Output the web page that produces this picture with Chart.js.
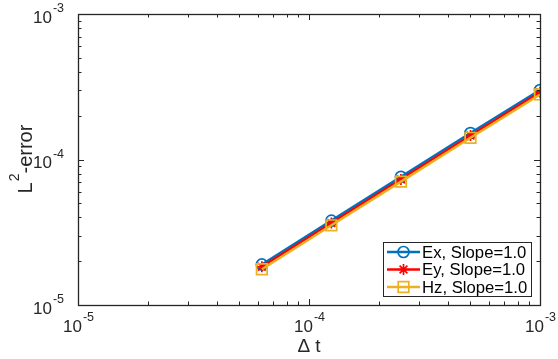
<!DOCTYPE html>
<html>
<head>
<meta charset="utf-8">
<script src="https://cdn.jsdelivr.net/npm/chart.js@4.4.1/dist/chart.umd.min.js"></script>
<style>
  html, body { margin: 0; padding: 0; background: #fff; }
  #wrap { width: 558px; height: 359px; }
</style>
</head>
<body>
<div id="wrap"><canvas id="errPlot" width="558" height="359"></canvas></div>
<script>
// time steps and L2 errors for each field component
const dt = [6.25e-5, 1.25e-4, 2.5e-4, 5e-4, 1e-3];
const errEx = [1.9e-5, 3.8e-5, 7.6e-5, 1.52e-4, 3.0e-4];
const errEy = [1.83e-5, 3.66e-5, 7.3e-5, 1.46e-4, 2.9e-4];
const errHz = [1.76e-5, 3.53e-5, 7.05e-5, 1.41e-4, 2.8e-4];
const seriesNames = ['Ex, Slope=1.0', 'Ey, Slope=1.0', 'Hz, Slope=1.0'];
const decadeExps = [-5, -4, -3];

const axisColor = '#262626';
const fontName = '"Liberation Sans", Arial, sans-serif';

function pts(ys) {
    return dt.map((x, i) => ({x: x, y: ys[i]}));
}

// draws "10" with a raised exponent, anchored by the center of the whole label
function powerLabel(ctx, exp, cx, cy, align) {
    const base = '10', sup = String(exp);
    ctx.font = '17px ' + fontName;
    const wb = ctx.measureText(base).width;
    ctx.font = '12.5px ' + fontName;
    const ws = ctx.measureText(sup).width;
    let x0 = align === 'right' ? cx - wb - ws : cx - (wb + ws) / 2;
    ctx.textBaseline = 'middle';
    ctx.textAlign = 'left';
    ctx.font = '17px ' + fontName;
    ctx.fillText(base, x0, cy);
    ctx.font = '12.5px ' + fontName;
    ctx.fillText(sup, x0 + wb + 1, cy - 9);
}

const matlabAxes = {
    id: 'matlabAxes',
    afterDatasetsDraw(chart) {
        const ctx = chart.ctx;
        const a = chart.chartArea;
        const xs = chart.scales.x, ys = chart.scales.y;
        ctx.save();
        ctx.strokeStyle = axisColor;
        ctx.fillStyle = axisColor;
        ctx.lineWidth = 1;

        // ticks on all four sides, 2..9 minors per decade
        ctx.beginPath();
        decadeExps.forEach((e, k) => {
            for (let m = 1; m <= 9; m++) {
                if (m > 1 && k === decadeExps.length - 1) break;
                const v = m * Math.pow(10, e);
                const len = m === 1 ? 6 : 3.5;
                const px = Math.round(xs.getPixelForValue(v)) + 0.5;
                const py = Math.round(ys.getPixelForValue(v)) + 0.5;
                ctx.moveTo(px, a.bottom); ctx.lineTo(px, a.bottom - len);
                ctx.moveTo(px, a.top); ctx.lineTo(px, a.top + len);
                ctx.moveTo(a.left, py); ctx.lineTo(a.left + len, py);
                ctx.moveTo(a.right, py); ctx.lineTo(a.right - len, py);
            }
        });
        ctx.stroke();

        // box
        ctx.lineWidth = 1.3;
        ctx.strokeRect(Math.round(a.left) + 0.5, Math.round(a.top) + 0.5,
            Math.round(a.right - a.left), Math.round(a.bottom - a.top));

        // tick labels
        ctx.fillStyle = '#262626';
        decadeExps.forEach(e => {
            const v = Math.pow(10, e);
            powerLabel(ctx, e, xs.getPixelForValue(v), a.bottom + 22, 'center');
            powerLabel(ctx, e, a.left - 15, ys.getPixelForValue(v) + 4, 'right');
        });

        // x title
        ctx.font = '19px ' + fontName;
        ctx.textAlign = 'center';
        ctx.textBaseline = 'middle';
        ctx.fillText('\u0394 t', (a.left + a.right) / 2, 347);

        // y title, rotated
        ctx.save();
        ctx.translate(23, (a.top + a.bottom) / 2);
        ctx.rotate(-Math.PI / 2);
        ctx.font = '20px ' + fontName;
        const wL = ctx.measureText('L').width;
        const wRest = ctx.measureText('-error').width;
        ctx.font = '14px ' + fontName;
        const w2 = ctx.measureText('2').width;
        let x0 = -(wL + w2 + wRest) / 2;
        ctx.textAlign = 'left';
        ctx.font = '20px ' + fontName;
        ctx.fillText('L', x0, 3);
        ctx.font = '14px ' + fontName;
        ctx.fillText('2', x0 + wL + 1, -8);
        ctx.font = '20px ' + fontName;
        ctx.fillText('-error', x0 + wL + w2 + 1, 3);
        ctx.restore();

        // legend box in the lower right corner
        const lx = 383, ly = 242, lw = 148, lh = 54;
        ctx.fillStyle = '#fff';
        ctx.fillRect(lx, ly, lw, lh);
        ctx.lineWidth = 1;
        ctx.strokeStyle = axisColor;
        ctx.strokeRect(lx + 0.5, ly + 0.5, lw, lh);
        chart.data.datasets.forEach((ds, i) => {
            const ry = ly + 10 + i * 17.5;
            ctx.strokeStyle = ds.borderColor;
            ctx.lineWidth = ds.borderWidth;
            ctx.beginPath();
            ctx.moveTo(lx + 4, ry); ctx.lineTo(lx + 37, ry);
            ctx.stroke();
            ctx.fillStyle = 'rgba(0,0,0,0)';
            ctx.lineWidth = ds.pointBorderWidth;
            Chart.helpers.drawPoint(ctx, {
                pointStyle: ds.pointStyle, radius: ds.pointRadius,
                rotation: 0, borderWidth: ds.pointBorderWidth
            }, lx + 20.5, ry);
            ctx.fillStyle = '#000';
            ctx.font = '16.7px ' + fontName;
            ctx.textAlign = 'left';
            ctx.textBaseline = 'middle';
            ctx.fillText(seriesNames[i], lx + 39, ry + 1);
        });
        ctx.restore();
    }
};

function series(label, ys, color, style, radius, order) {
    return {
        label: label,
        data: pts(ys),
        borderColor: color,
        backgroundColor: color,
        borderWidth: 2.5,
        pointStyle: style,
        pointRadius: radius,
        pointHoverRadius: radius,
        pointBorderColor: color,
        pointBackgroundColor: 'rgba(0,0,0,0)',
        pointBorderWidth: 1.7,
        tension: 0,
        order: order
    };
}

new Chart(document.getElementById('errPlot'), {
    type: 'line',
    data: {
        datasets: [
            series(seriesNames[0], errEx, '#0072BD', 'circle', 5.5, 3),
            series(seriesNames[1], errEy, '#FF0000', 'star', 5.5, 2),
            series(seriesNames[2], errHz, '#EDB120', 'rect', 7.5, 1)
        ]
    },
    options: {
        responsive: false,
        animation: false,
        layout: { padding: { top: 14, right: 18, left: 0, bottom: 0 } },
        plugins: { legend: { display: false }, tooltip: { enabled: false } },
        scales: {
            x: {
                type: 'logarithmic',
                min: 1e-5, max: 1e-3,
                grid: { display: false },
                border: { display: false },
                ticks: { display: false },
                afterFit(s) { s.height = 54; }
            },
            y: {
                type: 'logarithmic',
                min: 1e-5, max: 1e-3,
                grid: { display: false },
                border: { display: false },
                ticks: { display: false },
                afterFit(s) { s.width = 78; }
            }
        }
    },
    plugins: [matlabAxes]
});
</script>
</body>
</html>
